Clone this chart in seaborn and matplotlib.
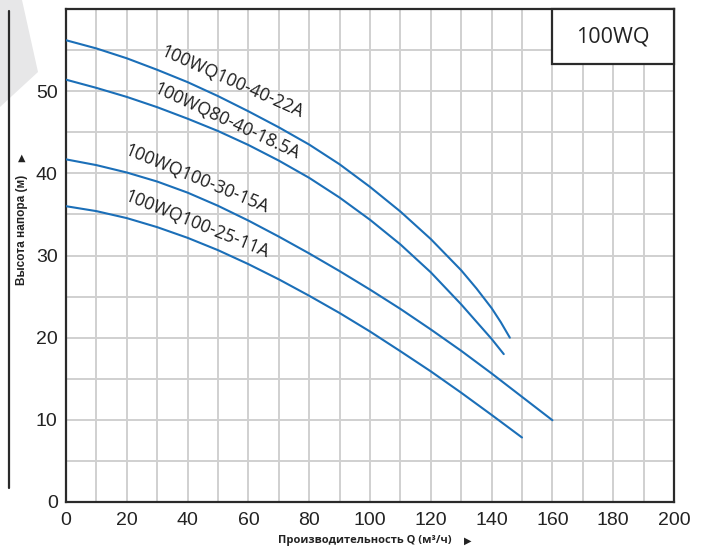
import numpy as np
import pandas as pd
import matplotlib
matplotlib.use("Agg")
import matplotlib.pyplot as plt
from matplotlib.patches import Polygon, Rectangle
from matplotlib.lines import Line2D
from matplotlib.ticker import MultipleLocator
import seaborn as sns

# ---- data ----
models = ["100WQ100-40-22A", "100WQ80-40-18.5A", "100WQ100-30-15A", "100WQ100-25-11A"]
q_22a = [0, 10, 20, 30, 40, 50, 60, 70, 80, 90, 100, 110, 120, 130, 135, 140, 143, 146]
h_22a = [56.2, 55.2, 54.0, 52.6, 51.1, 49.4, 47.55, 45.6, 43.5, 41.1, 38.35, 35.35, 32.0, 28.2, 26.0, 23.6, 21.9, 20.0]
q_185a = [0, 10, 20, 30, 40, 50, 60, 70, 80, 90, 100, 110, 120, 130, 140, 144]
h_185a = [51.4, 50.4, 49.3, 48.05, 46.65, 45.15, 43.45, 41.55, 39.45, 37.05, 34.35, 31.35, 27.95, 24.05, 19.85, 18.0]
q_15a = [0, 10, 20, 30, 40, 50, 60, 70, 80, 90, 100, 110, 120, 130, 140, 150, 160]
h_15a = [41.7, 41.0, 40.1, 39.0, 37.65, 36.05, 34.25, 32.3, 30.25, 28.1, 25.85, 23.5, 21.0, 18.4, 15.65, 12.8, 9.95]
q_11a = [0, 10, 20, 30, 40, 50, 60, 70, 80, 90, 100, 110, 120, 130, 140, 150]
h_11a = [36.0, 35.4, 34.55, 33.45, 32.15, 30.65, 28.95, 27.1, 25.1, 23.0, 20.75, 18.35, 15.9, 13.3, 10.6, 7.85]

x_ticks = [0, 20, 40, 60, 80, 100, 120, 140, 160, 180, 200]
y_ticks = [0, 10, 20, 30, 40, 50]
title_box = "100WQ"
x_label = "Производительность Q (м³/ч)"
y_label = "Высота напора (м)"

df = pd.concat([
    pd.DataFrame({"Q": q_22a, "H": h_22a, "model": models[0]}),
    pd.DataFrame({"Q": q_185a, "H": h_185a, "model": models[1]}),
    pd.DataFrame({"Q": q_15a, "H": h_15a, "model": models[2]}),
    pd.DataFrame({"Q": q_11a, "H": h_11a, "model": models[3]}),
], ignore_index=True)

# label placement (data coords) and rotation
label_pos = {models[0]: (54.6, 51.1), models[1]: (53.0, 46.3),
             models[2]: (43.1, 39.3), models[3]: (43.1, 33.8)}
label_rot = {models[0]: -24, models[1]: -25, models[2]: -22.5, models[3]: -22}

sns.set_theme(style="white")
plt.rcParams["font.family"] = ["Liberation Sans", "DejaVu Sans"]

W, H = 702, 552
fig = plt.figure(figsize=(W / 100, H / 100), dpi=100)
fig.patch.set_facecolor("white")

# decorative gray shape top-left
poly = Polygon([(0 / W, 1), (22 / W, 1), (38 / W, 1 - 72 / H), (0, 1 - 107 / H)],
               closed=True, transform=fig.transFigure, facecolor="#e7e7e8",
               edgecolor="none", zorder=0)
fig.patches.append(poly)
fig.lines.append(Line2D([9 / W, 9 / W], [1 - 11 / H, 1 - 488 / H], transform=fig.transFigure,
                        color="#2a2a2a", linewidth=1.6))

ax = fig.add_axes([66 / W, 1 - 502 / H, (674 - 66) / W, (502 - 9) / H])
ax.set_facecolor("white")

blue = "#1b6fb8"
sns.lineplot(data=df, x="Q", y="H", hue="model", palette=[blue] * 4, sort=False,
             estimator=None, legend=False, linewidth=1.5, ax=ax, zorder=3)
for ln in ax.lines:
    ln.set_solid_joinstyle("round")

ax.set_xlim(0, 200)
ax.set_ylim(0, 60)
ax.set_xticks(x_ticks)
ax.set_yticks(y_ticks)
ax.xaxis.set_minor_locator(MultipleLocator(10))
ax.yaxis.set_minor_locator(MultipleLocator(5))
ax.grid(which="both", color="#d0d0d0", linewidth=1.4, zorder=0)
ax.set_axisbelow(True)
ax.set_xlabel("")
ax.set_ylabel("")

for s in ax.spines.values():
    s.set_visible(True)
    s.set_color("#2a2a2a")
    s.set_linewidth(1.6)

ax.tick_params(axis="x", which="major", direction="inout", length=7, width=1.4,
               color="#2a2a2a", labelsize=14, labelcolor="#222222", pad=4)
ax.tick_params(axis="y", which="major", direction="out", length=5, width=1.4,
               color="#2a2a2a", labelsize=14, labelcolor="#222222", pad=1)
ax.tick_params(which="minor", length=0)

for m in models:
    x, y = label_pos[m]
    ax.text(x, y, m, rotation=label_rot[m], rotation_mode="anchor", ha="center",
            va="center", fontsize=12.8, color="#1e1e1e", family=["Open Sans", "DejaVu Sans"],
            zorder=4)

# box with series name
ax.add_patch(Rectangle((160, 53.3), 40, 6.7, facecolor="white", edgecolor="#2a2a2a",
                       linewidth=1.6, zorder=5, clip_on=False))
ax.text(180, 56.55, title_box, ha="center", va="center", fontsize=15.5, color="#222222",
        family=["Open Sans", "DejaVu Sans"], zorder=6)

# axis labels with arrows
fig.text(365 / W, 1 - 541 / H, x_label, ha="center", va="center", fontsize=8,
         fontweight="bold", color="#222222", family=["Open Sans", "DejaVu Sans"])
fig.text(468 / W, 1 - 541 / H, "▶", ha="center", va="center", fontsize=7,
         color="#222222", family=["DejaVu Sans"])
fig.text(22 / W, 1 - 230 / H, y_label, ha="center", va="center", rotation=90, fontsize=8.5,
         fontweight="bold", color="#222222", family=["Liberation Sans", "DejaVu Sans"])
fig.text(22 / W, 1 - 158 / H, "▲", ha="center", va="center", fontsize=7,
         color="#222222", family=["DejaVu Sans"])

fig.savefig("out.png", dpi=100, facecolor="white")
